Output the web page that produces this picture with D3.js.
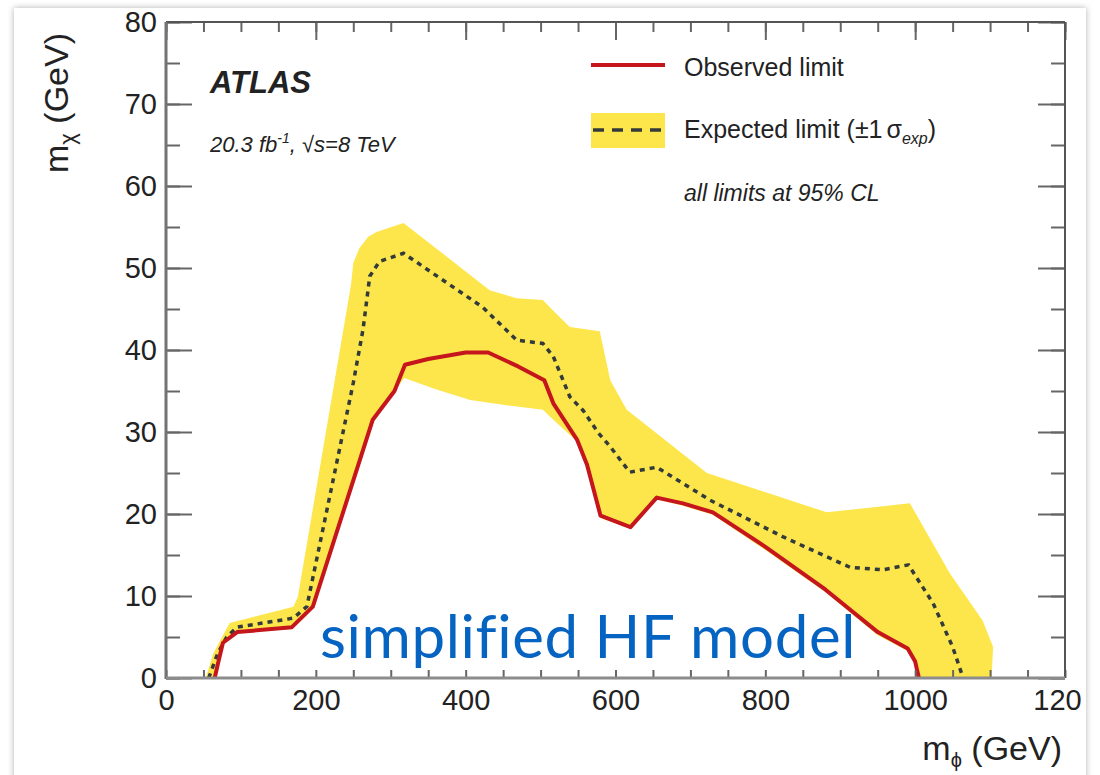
<!DOCTYPE html>
<html>
<head>
<meta charset="utf-8">
<script src="https://cdn.jsdelivr.net/npm/d3@7"></script>
<style>
body{margin:0;background:#fff;}
text{font-family:"Liberation Sans",Arial,sans-serif;fill:#222;}
</style>
</head>
<body>
<div id="chart"></div>
<script>
// observed limit (red)
const obsX = [65,70,76,95,168,196,276,305,319,350,400,430,470,505,517,549,562,580,620,655,690,730,800,880,950,990,1000,1005];
const obsY = [0,2,4.3,5.6,6.2,8.7,31.5,35,38.2,38.9,39.7,39.7,38,36.3,33.5,29,26,19.8,18.4,22,21.3,20.2,16,10.8,5.6,3.6,2,0];
// expected limit (dashed)
const expX = [57,69,81,95,170,188,250,263,272,285,317,423,468,503,517,539,557,577,593,619,655,726,824,913,957,991,1024,1050,1064];
const expY = [0,3,5,6.2,7.3,8.7,36,42.5,49,50.8,51.8,45.2,41.2,40.8,39.2,34.3,32.6,29.9,28.2,25.1,25.7,21.7,17.2,13.5,13.2,13.8,9.1,3.8,0];
// +-1 sigma band, upper and lower edges
const bandUpX = [53,63,85,170,176,247,250,258,270,281,317,432,468,503,520,539,579,593,615,722,882,993,1046,1090,1104,1102];
const bandUpY = [0,3,6.7,8.7,9.9,48,50.6,52.4,53.8,54.4,55.5,47.3,46.3,46.1,44.5,42.8,42.3,36.3,32.7,25,20.2,21.3,12.8,7,3.8,0];
const bandLoX = [64,70,76,95,168,196,276,305,318,360,406,460,503,517,549,562,580,620,655,690,730,800,880,950,990,1000,1004];
const bandLoY = [0,2,4.3,5.6,6.0,8.5,31.5,35,36.6,35.2,33.9,33.2,32.7,31.5,28.8,25.8,19.5,18.2,21.8,21.0,19.9,15.6,10.5,5.2,3.3,1.8,0];

const xMajor = [0,200,400,600,800,1000,1200];
const yMajor = [0,10,20,30,40,50,60,70,80];

const W = 1100, H = 775;
const svg = d3.select("#chart").append("svg").attr("width", W).attr("height", H);
const defs = svg.append("defs");

const sh = defs.append("filter").attr("id","shadow").attr("x","-5%").attr("y","-5%").attr("width","110%").attr("height","110%");
sh.append("feDropShadow").attr("dx",0).attr("dy",0).attr("stdDeviation",3).attr("flood-color","#000").attr("flood-opacity",0.3);

svg.append("rect").attr("x",14).attr("y",8).attr("width",1072).attr("height",790)
    .attr("fill","#fff").attr("filter","url(#shadow)");

const x = d3.scaleLinear().domain([0,1200]).range([166,1065]);
const y = d3.scaleLinear().domain([0,80]).range([678,22]);

defs.append("clipPath").attr("id","plot").append("rect")
    .attr("x",x(0)).attr("y",y(80)).attr("width",x(1200)-x(0)).attr("height",y(0)-y(80));
defs.append("clipPath").attr("id","card").append("rect")
    .attr("x",0).attr("y",0).attr("width",1081).attr("height",H);

const zip = (xs, ys) => xs.map((v,i) => [v, ys[i]]);
const line = d3.line().x(d => x(d[0])).y(d => y(d[1]));

const g = svg.append("g").attr("clip-path","url(#plot)");

// band
const band = zip(bandUpX, bandUpY).concat(zip(bandLoX, bandLoY).reverse());
g.append("path").attr("d", line(band) + "Z").attr("fill","#fde64b");

g.append("path").attr("d", line(zip(expX, expY)))
    .attr("fill","none").attr("stroke","#333a3a").attr("stroke-width",3.5)
    .attr("stroke-dasharray","5,5");

g.append("path").attr("d", line(zip(obsX, obsY)))
    .attr("fill","none").attr("stroke","#c4161c").attr("stroke-width",4)
    .attr("stroke-linejoin","round");

// axes
function styleAxis(sel){
    sel.select(".domain").remove();
    sel.selectAll("line").attr("stroke","#666").attr("stroke-width",2);
    sel.selectAll("text").attr("font-size",29).attr("fill","#222")
        .attr("font-family","'Liberation Sans',Arial,sans-serif");
}

svg.append("g").attr("transform",`translate(0,${y(0)})`)
    .call(d3.axisBottom(x).tickValues(d3.range(0,1201,50)).tickSize(-8).tickFormat(""))
    .call(styleAxis);
svg.append("g").attr("transform",`translate(0,${y(0)})`).attr("clip-path","url(#card)")
    .call(d3.axisBottom(x).tickValues(xMajor).tickSize(-19).tickPadding(11).tickFormat(d3.format("d")))
    .call(styleAxis);

svg.append("g").attr("transform",`translate(0,${y(80)})`)
    .call(d3.axisTop(x).tickValues(d3.range(0,1201,50)).tickSize(-10).tickFormat(""))
    .call(styleAxis);
svg.append("g").attr("transform",`translate(0,${y(80)})`)
    .call(d3.axisTop(x).tickValues(xMajor).tickSize(-18).tickFormat(""))
    .call(styleAxis);

svg.append("g").attr("transform",`translate(${x(0)},0)`)
    .call(d3.axisLeft(y).tickValues(d3.range(0,81,5)).tickSize(-14).tickFormat(""))
    .call(styleAxis);
svg.append("g").attr("transform",`translate(${x(0)},0)`)
    .call(d3.axisLeft(y).tickValues(yMajor).tickSize(-26).tickPadding(9).tickFormat(d3.format("d")))
    .call(styleAxis);

svg.append("g").attr("transform",`translate(${x(1200)},0)`)
    .call(d3.axisRight(y).tickValues(d3.range(0,81,5)).tickSize(-14).tickFormat(""))
    .call(styleAxis);
svg.append("g").attr("transform",`translate(${x(1200)},0)`)
    .call(d3.axisRight(y).tickValues(yMajor).tickSize(-27).tickFormat(""))
    .call(styleAxis);

// frame
svg.append("line").attr("x1",x(0)).attr("x2",x(1200)).attr("y1",y(80)).attr("y2",y(80)).attr("stroke","#555").attr("stroke-width",2);
svg.append("line").attr("x1",x(1200)).attr("x2",x(1200)).attr("y1",y(80)).attr("y2",y(0)).attr("stroke","#555").attr("stroke-width",2);
svg.append("line").attr("x1",x(0)).attr("x2",x(0)).attr("y1",y(80)).attr("y2",y(0)+1).attr("stroke","#737373").attr("stroke-width",3);
svg.append("line").attr("x1",x(0)).attr("x2",x(1200)).attr("y1",y(0)).attr("y2",y(0)).attr("stroke","#8c8c8c").attr("stroke-width",3);

// axis titles
const yt = svg.append("text").attr("transform","translate(68,173) rotate(-90)").attr("font-size",34);
yt.append("tspan").text("m");
yt.append("tspan").attr("font-size",22).attr("dy",7).text("χ");
yt.append("tspan").attr("dy",-7).text(" (GeV)");

const xt = svg.append("text").attr("x",1062).attr("y",760).attr("text-anchor","end").attr("font-size",34);
xt.append("tspan").text("m");
xt.append("tspan").attr("font-size",20).attr("dy",7).text("ϕ");
xt.append("tspan").attr("dy",-7).text(" (GeV)");

// labels
svg.append("text").attr("x",210).attr("y",93).attr("font-size",31)
    .attr("font-weight","bold").attr("font-style","italic").text("ATLAS");
const lum = svg.append("text").attr("x",210).attr("y",152).attr("font-size",22).attr("font-style","italic");
lum.append("tspan").text("20.3 fb");
lum.append("tspan").attr("font-size",14).attr("dy",-9).text("-1");
lum.append("tspan").attr("dy",9).text(", √s=8 TeV");

// legend
svg.append("line").attr("x1",591).attr("x2",665).attr("y1",65).attr("y2",65)
    .attr("stroke","#c4161c").attr("stroke-width",4);
svg.append("text").attr("x",684).attr("y",76).attr("font-size",25).text("Observed limit");

svg.append("rect").attr("x",591).attr("y",113).attr("width",74).attr("height",35).attr("fill","#fde64b");
svg.append("line").attr("x1",593).attr("x2",665).attr("y1",130).attr("y2",130)
    .attr("stroke","#333a3a").attr("stroke-width",3.5).attr("stroke-dasharray","11,8");
const el = svg.append("text").attr("x",684).attr("y",138).attr("font-size",25);
el.append("tspan").text("Expected limit (±1");
el.append("tspan").attr("dx",4).text("σ");
el.append("tspan").attr("font-size",16).attr("font-style","italic").attr("dy",6).text("exp");
el.append("tspan").attr("dy",-6).text(")");

svg.append("text").attr("x",684).attr("y",201).attr("font-size",23).attr("font-style","italic")
    .text("all limits at 95% CL");

svg.append("text").attr("x",320).attr("y",658).attr("font-size",60)
    .style("font-family","Lato, 'Open Sans', sans-serif").style("fill","#0563c1")
    .style("letter-spacing","0.6px")
    .text("simplified HF model");
</script>
</body>
</html>
